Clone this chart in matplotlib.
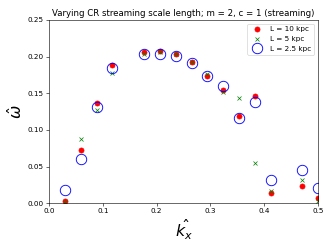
import matplotlib
matplotlib.use("Agg")
import matplotlib.pyplot as plt
import numpy as np

kx = [0.0294, 0.0588, 0.0882, 0.1176, 0.1765, 0.2059, 0.2353, 0.2647,
      0.2941, 0.3235, 0.3529, 0.3824, 0.4118, 0.4706, 0.5]
w_L10 = [0.003, 0.072, 0.136, 0.188, 0.206, 0.207, 0.204, 0.193,
         0.174, 0.155, 0.119, 0.146, 0.014, 0.023, 0.007]
w_L5 = [0.002, 0.087, 0.127, 0.178, 0.204, 0.206, 0.204, 0.193,
        0.176, 0.152, 0.144, 0.055, 0.017, 0.032, 0.003]
w_L25 = [0.018, 0.060, 0.131, 0.185, 0.203, 0.204, 0.201, 0.191,
         0.1735, 0.160, 0.116, 0.1375, 0.032, 0.0455, 0.0205]

fig = plt.figure(figsize=(6.4, 4.8), dpi=51.875)
ax = fig.add_axes([0.148, 0.184, 0.81, 0.736])
ax.plot(kx, w_L10, 'o', color='red', markersize=7, label='L = 10 kpc')
ax.plot(kx, w_L5, 'x', color='green', markersize=6, label='L = 5 kpc')
ax.plot(kx, w_L25, 'o', markerfacecolor='none', markeredgecolor='blue',
        markersize=14.5, markeredgewidth=1.2, label='L = 2.5 kpc')
ax.set_xlim(0, 0.5)
ax.set_ylim(0, 0.25)
ax.set_xticks(np.arange(0, 0.51, 0.1))
ax.set_yticks(np.arange(0, 0.251, 0.05))
ax.xaxis.set_major_formatter(matplotlib.ticker.FormatStrFormatter('%.1f'))
ax.yaxis.set_major_formatter(matplotlib.ticker.FormatStrFormatter('%.2f'))
ax.set_xlabel(r'$\hat{k_x}$', fontsize=22)
ax.set_ylabel(r'$\hat{\omega}$', fontsize=22)
ax.set_title('Varying CR streaming scale length; m = 2, c = 1 (streaming)', fontsize=12)
ax.legend(loc='upper right')
fig.savefig('out.png', dpi=51.875)
